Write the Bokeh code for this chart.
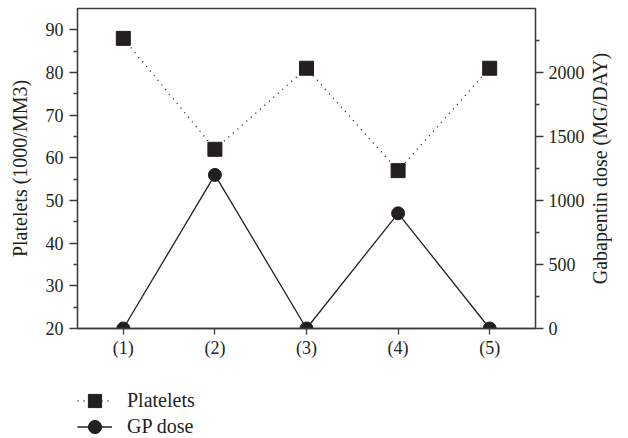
import math
from bokeh.plotting import figure
from bokeh.layouts import column, row
from bokeh.models import (Range1d, LinearAxis, FixedTicker, Legend, LegendItem,
                          ColumnDataSource, FactorRange, Label)
from bokeh.embed import file_html
from bokeh.resources import INLINE

# ---- data ----
visits = ["(1)", "(2)", "(3)", "(4)", "(5)"]
platelets = [88, 62, 81, 57, 81]
gp_dose = [0, 1200, 0, 900, 0]
left_ticks = [20, 30, 40, 50, 60, 70, 80, 90]
left_minor = [25, 35, 45, 55, 65, 75, 85]
right_ticks = [0, 500, 1000, 1500, 2000]
right_minor = [250, 750, 1250, 1750, 2250]
series_names = ["Platelets", "GP dose"]
left_title = "Platelets (1000/MM3)"
right_title = "Gabapentin dose (MG/DAY)"

FONT = "Liberation Serif"
INK = "#231f20"
AX = "#3c3c3c"
TICK_FS = "18px"
TITLE_FS = "20px"
LEG_FS = "20px"

p = figure(width=587, height=362,
           x_range=FactorRange(*visits), y_range=Range1d(20, 95),
           output_backend="svg", toolbar_location=None,
           min_border_left=77, min_border_right=51,
           min_border_top=8, min_border_bottom=34)
p.extra_y_ranges = {"dose": Range1d(0, 2500)}

p.xgrid.grid_line_color = None
p.ygrid.grid_line_color = None
p.outline_line_color = AX
p.outline_line_width = 1.3

src = ColumnDataSource(dict(visit=visits, platelets=platelets, dose=gp_dose))

line_kw1 = dict(line_dash="1 5", line_color=INK, line_width=1.4)
mark_kw1 = dict(marker="square", size=14, fill_color=INK, line_color=INK)
line_kw2 = dict(line_color=INK, line_width=1.3)
mark_kw2 = dict(marker="circle", size=13, fill_color=INK, line_color=INK)

p.line("visit", "platelets", source=src, **line_kw1)
p.scatter("visit", "platelets", source=src, **mark_kw1)
p.line("visit", "dose", source=src, y_range_name="dose", **line_kw2)
p.scatter("visit", "dose", source=src, y_range_name="dose", **mark_kw2)

def style(ax):
    ax.axis_line_color = AX
    ax.axis_line_width = 1.3
    ax.major_tick_line_color = AX
    ax.minor_tick_line_color = AX
    ax.major_tick_line_width = 1.3
    ax.minor_tick_line_width = 1.3
    ax.major_tick_in = 0
    ax.minor_tick_in = 0
    ax.major_label_text_font = FONT
    ax.major_label_text_font_size = TICK_FS
    ax.major_label_text_color = INK
    ax.axis_label_text_font = FONT
    ax.axis_label_text_font_size = TITLE_FS
    ax.axis_label_text_font_style = "normal"
    ax.axis_label_text_color = INK

# bottom axis
xa = p.xaxis[0]
style(xa)
xa.major_tick_out = 6
xa.major_label_standoff = 3

# left axis
ya = p.yaxis[0]
style(ya)
ya.ticker = FixedTicker(ticks=left_ticks, minor_ticks=left_minor)
ya.major_tick_out = 8
ya.minor_tick_out = 4
ya.major_label_standoff = 6
ya.axis_label = left_title
ya.axis_label_standoff = 12

# right axis (its title is drawn in the strip to the right)
ra = LinearAxis(y_range_name="dose",
                ticker=FixedTicker(ticks=right_ticks, minor_ticks=right_minor))
style(ra)
ra.major_tick_out = 8
ra.minor_tick_out = 4
ra.major_label_standoff = 5
p.add_layout(ra, "right")

# ---- right strip with the rotated right-axis title ----
rf = figure(width=25, height=362, output_backend="svg", toolbar_location=None,
            x_axis_type=None, y_axis_type=None,
            x_range=Range1d(0, 1), y_range=Range1d(0, 1),
            min_border_left=0, min_border_right=0,
            min_border_top=8, min_border_bottom=34)
rf.outline_line_color = None
rf.xgrid.grid_line_color = None
rf.ygrid.grid_line_color = None
rf.add_layout(Label(x=0.5, y=0.5, text=right_title, angle=math.pi / 2,
                    text_align="center", text_baseline="middle",
                    text_font=FONT, text_font_size=TITLE_FS, text_color=INK))

# ---- legend strip below the chart ----
lf = figure(width=612, height=76, output_backend="svg", toolbar_location=None,
            x_axis_type=None, y_axis_type=None,
            x_range=Range1d(0, 1), y_range=Range1d(0, 1),
            min_border_left=77, min_border_right=76,
            min_border_top=0, min_border_bottom=0)
lf.outline_line_color = None
lf.xgrid.grid_line_color = None
lf.ygrid.grid_line_color = None
# legend sample renderers (their data lies outside this strip's ranges)
a1 = lf.line("platelets", "platelets", source=src, **line_kw1)
b1 = lf.scatter("platelets", "platelets", source=src, **mark_kw1)
a2 = lf.line("platelets", "platelets", source=src, **line_kw2)
b2 = lf.scatter("platelets", "platelets", source=src, **mark_kw2)

leg_kw = dict(glyph_width=35, glyph_height=33, label_standoff=15,
              padding=0, margin=0, border_line_color=None,
              background_fill_alpha=0, label_text_font=FONT,
              label_text_font_size=LEG_FS, label_text_color=INK)
lf.add_layout(Legend(items=[LegendItem(label=series_names[0], renderers=[a1, b1])],
                     location=(0, 21), **leg_kw))
lf.add_layout(Legend(items=[LegendItem(label=series_names[1], renderers=[a2, b2])],
                     location=(0, -5), **leg_kw))

page = column(row(p, rf, spacing=0), lf, spacing=0)
open("out.html", "w").write(file_html(page, INLINE))
